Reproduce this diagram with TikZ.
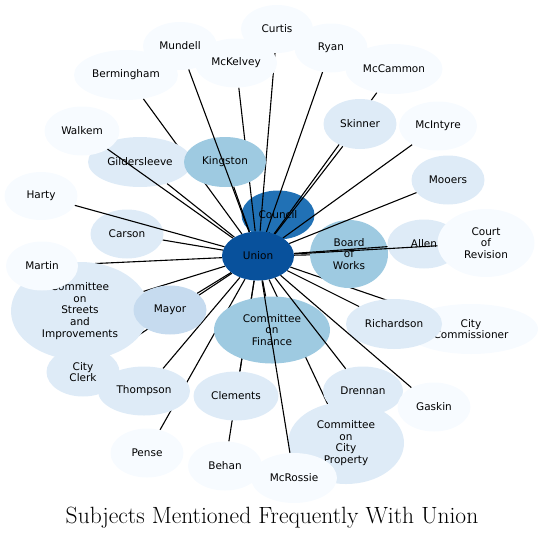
\documentclass[tikz,border=0pt]{standalone}
\usepackage{fontspec}
\newfontfamily\nodefont{DejaVu Sans}
\usetikzlibrary{shapes.geometric}
\pgfdeclarelayer{councillayer}
\pgfdeclarelayer{backedges}
\pgfdeclarelayer{frontedges}
\pgfsetlayers{councillayer,backedges,main,frontedges}
\definecolor{bA}{HTML}{F7FBFF}
\definecolor{bB}{HTML}{DEEBF7}
\definecolor{bC}{HTML}{C6DBEF}
\definecolor{bD}{HTML}{9ECAE1}
\definecolor{bG}{HTML}{2171B5}
\definecolor{bH}{HTML}{08519C}
\tikzset{
  bub/.style n args={3}{ellipse, fill=#1, draw=none, minimum width=#2, minimum height=#3,
    inner sep=0pt, align=center, text=black, font=\nodefont\fontsize{10.5}{11.8}\selectfont},
  link/.style={draw=black, line width=1.1pt}
}
\begin{document}
\begin{tikzpicture}[x=1pt,y=-1pt]
\useasboundingbox (0,0) rectangle (545,538);
\begin{pgfonlayer}{councillayer}
\node[bub={bG}{73pt}{49pt}] (council) at (278,215) {Council};
\end{pgfonlayer}
% nodes
\node[bub={bA}{74pt}{48pt}] (mundell) at (180,46) {Mundell};
\node[bub={bA}{72pt}{48pt}] (curtis) at (277,29) {Curtis};
\node[bub={bA}{73pt}{49pt}] (ryan) at (331,48) {Ryan};
\node[bub={bA}{104pt}{50pt}] (bermingham) at (126,75) {Bermingham};
\node[bub={bA}{82pt}{49pt}] (mckelvey) at (236,63) {McKelvey};
\node[bub={bA}{97pt}{50pt}] (mccammon) at (394,69) {McCammon};
\node[bub={bB}{104pt}{50pt}] (gildersleeve) at (140,162) {Gildersleeve};
\node[bub={bD}{82pt}{50pt}] (kingston) at (225,162) {Kingston};
\node[bub={bA}{75pt}{49pt}] (walkem) at (82,131) {Walkem};
\node[bub={bB}{73pt}{50pt}] (skinner) at (360,124) {Skinner};
\node[bub={bA}{78pt}{49pt}] (mcintyre) at (438,126) {McIntyre};
\node[bub={bB}{73pt}{49pt}] (mooers) at (448,180) {Mooers};
\node[bub={bD}{78pt}{68pt}] (works) at (349,254) {Board\\of\\Works};
\node[bub={bB}{73pt}{49pt}] (allen) at (424,244) {Allen};
\node[bub={bA}{97pt}{68pt}] (revision) at (486,243) {Court\\of\\Revision};
\node[bub={bA}{73pt}{48pt}] (harty) at (41,196) {Harty};
\node[bub={bB}{73pt}{49pt}] (carson) at (127,234) {Carson};
\node[bub={bB}{73pt}{49pt}] (clerk) at (83,372) {City\\Clerk};
\node[bub={bB}{138pt}{98pt}] (streets) at (80,311) {Committee\\on\\Streets\\and\\Improvements};
\node[bub={bA}{72pt}{49pt}] (martin) at (42,266) {Martin};
\node[bub={bC}{73pt}{49pt}] (mayor) at (170,310) {Mayor};
\node[bub={bD}{116pt}{67pt}] (finance) at (272,330) {Committee\\on\\Finance};
\node[bub={bA}{134pt}{50pt}] (commissioner) at (471,329) {City\\Commissioner};
\node[bub={bB}{96pt}{50pt}] (richardson) at (394,324) {Richardson};
\node[bub={bB}{92pt}{49pt}] (thompson) at (144,391) {Thompson};
\node[bub={bB}{85pt}{49pt}] (clements) at (236,396) {Clements};
\node[bub={bB}{80pt}{49pt}] (drennan) at (363,391) {Drennan};
\node[bub={bA}{73pt}{49pt}] (gaskin) at (434,407) {Gaskin};
\node[bub={bB}{116pt}{82pt}] (property) at (346,443) {Committee\\on\\City\\Property};
\node[bub={bA}{73pt}{49pt}] (pense) at (147,453) {Pense};
\node[bub={bA}{74pt}{49pt}] (behan) at (225,466) {Behan};
\node[bub={bA}{86pt}{50pt}] (mcrossie) at (294,478) {McRossie};
\node[bub={bH}{72pt}{49pt}] (union) at (258,256) {Union};
% title
\node[anchor=base, inner sep=0pt, font=\fontsize{23.5}{27}\selectfont] (title) at (272,523) {Subjects Mentioned Frequently With Union};
% edges hidden under other nodes
\begin{pgfonlayer}{backedges}
\foreach \t in {curtis,ryan,mccammon,mckelvey,bermingham,gildersleeve,kingston,skinner,mcintyre,council,works,carson,martin,streets,clerk,mayor,finance,commissioner,richardson,thompson,pense,clements,behan,property}
  \draw[link] (union) -- (\t);
\end{pgfonlayer}
% edges drawn over other nodes
\begin{pgfonlayer}{frontedges}
\foreach \t in {mundell,walkem,harty,mcrossie,allen,revision,mooers,drennan,gaskin}
  \draw[link] (union) -- (\t);
\end{pgfonlayer}
\end{tikzpicture}
\end{document}
